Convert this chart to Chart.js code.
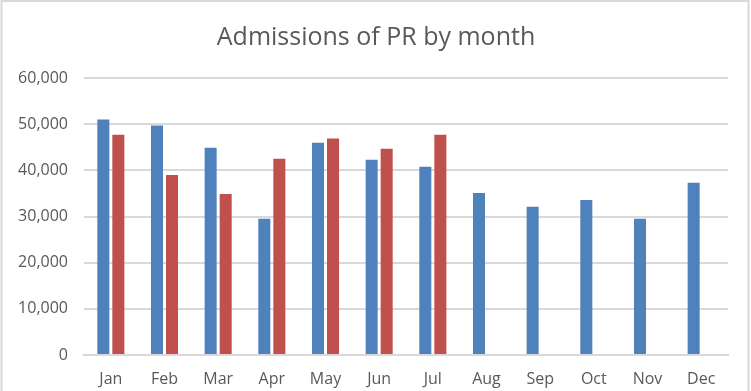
<!DOCTYPE html>
<html>
<head>
<meta charset="utf-8">
<script src="https://cdn.jsdelivr.net/npm/chart.js@4/dist/chart.umd.min.js"></script>
<style>
html,body{margin:0;padding:0;background:#fff;}
#wrap{width:751px;height:391px;position:relative;}
</style>
</head>
<body>
<div id="wrap"><canvas id="c" width="751" height="391"></canvas></div>
<script>
const months = ["Jan","Feb","Mar","Apr","May","Jun","Jul","Aug","Sep","Oct","Nov","Dec"];
const series1 = [51000,49700,44900,29500,46000,42300,40800,35100,32100,33600,29500,37300];
const series2 = [47700,39000,34900,42500,46900,44700,47700,null,null,null,null,null];
const yTicks = [0,10000,20000,30000,40000,50000,60000];
const titleText = "Admissions of PR by month";

const framePlugin = {
  id: 'frame',
  beforeDraw(chart){
    const ctx = chart.ctx;
    ctx.save();
    ctx.fillStyle = '#fff';
    ctx.fillRect(0,0,chart.width,chart.height);
    ctx.strokeStyle = '#d9d9d9';
    ctx.lineWidth = 2;
    ctx.beginPath();
    ctx.moveTo(1.5, chart.height);
    ctx.lineTo(1.5, 1);
    ctx.lineTo(748.5, 1);
    ctx.lineTo(748.5, chart.height);
    ctx.stroke();
    ctx.restore();
  }
};

new Chart(document.getElementById('c'), {
  type: 'bar',
  data: {
    labels: months,
    datasets: [
      {label: 'Series1', data: series1, backgroundColor: '#4F81BD', barPercentage: 0.8, categoryPercentage: 0.56},
      {label: 'Series2', data: series2, backgroundColor: '#C0504D', barPercentage: 0.8, categoryPercentage: 0.56}
    ]
  },
  options: {
    responsive: false,
    animation: false,
    devicePixelRatio: 1,
    layout: {padding: {left: 4, right: 3, top: 8, bottom: 0}},
    plugins: {
      legend: {display: false},
      tooltip: {enabled: false},
      title: {
        display: true,
        text: titleText,
        color: '#595959',
        font: {family: 'Open Sans', size: 25, weight: 'normal'},
        padding: {top: 15, bottom: 25}
      }
    },
    scales: {
      x: {
        grid: {display: false, drawTicks: false},
        border: {display: true, color: '#d9d9d9', width: 2},
        ticks: {color: '#595959', font: {family: 'Open Sans', size: 16}, padding: 15, maxRotation: 0},
        afterFit(axis){ axis.height = 36; }
      },
      y: {
        min: 0, max: 60000,
        afterBuildTicks(axis){ axis.ticks = yTicks.map(v => ({value: v})); },
        grid: {color: '#d9d9d9', lineWidth: 2, drawTicks: false},
        border: {display: false},
        ticks: {
          color: '#595959', font: {family: 'Open Sans', size: 16}, padding: 16,
          callback: v => v.toLocaleString('en-US')
        },
        afterFit(axis){ axis.width = 80; }
      },
      yRight: {
        position: 'right',
        display: true,
        min: 0, max: 60000,
        grid: {display: false, drawTicks: false},
        border: {display: false},
        ticks: {display: false},
        afterFit(axis){ axis.width = 20; }
      }
    }
  },
  plugins: [framePlugin]
});
</script>
</body>
</html>
